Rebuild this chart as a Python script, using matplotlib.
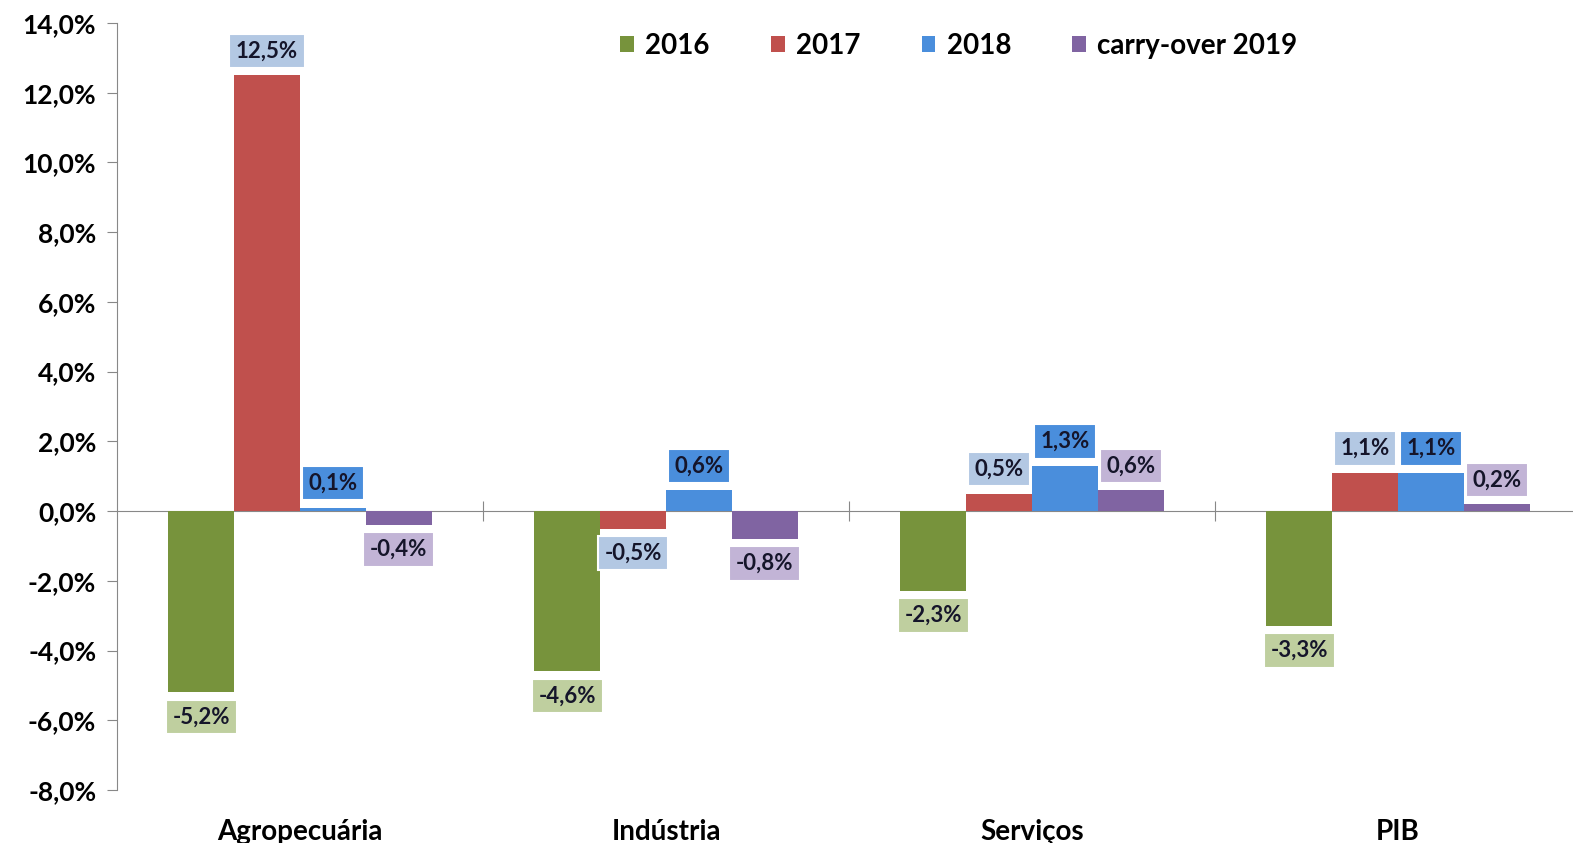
import numpy as np
import matplotlib.pyplot as plt
from matplotlib.ticker import FuncFormatter, FixedLocator

plt.rcParams['font.family'] = ['Lato', 'DejaVu Sans']
plt.rcParams['font.weight'] = 'bold'

categories = ['Agropecuária', 'Indústria', 'Serviços', 'PIB']
series_names = ['2016', '2017', '2018', 'carry-over 2019']
v2016 = [-5.2, -4.6, -2.3, -3.3]
v2017 = [12.5, -0.5, 0.5, 1.1]
v2018 = [0.1, 0.6, 1.3, 1.1]
v2019 = [-0.4, -0.8, 0.6, 0.2]

bar_colors = ['#77933C', '#C0504D', '#4A8EDC', '#8064A2']
box_colors = ['#BFCF9F', '#B3C8E3', '#4A8EDC', '#C2B4D6']

fig = plt.figure(figsize=(15.73, 8.43), dpi=100)
ax = fig.add_axes([0.0744, 0.0629, 0.9307, 0.9098])

x = np.arange(len(categories))
w = 0.18
all_vals = [v2016, v2017, v2018, v2019]
for k, vals in enumerate(all_vals):
    pos = x + (k - 1.5) * w
    ax.bar(pos, vals, width=w, color=bar_colors[k], label=series_names[k], zorder=3)
    for xi, v in zip(pos, vals):
        txt = f'{v:.1f}%'.replace('.', ',')
        off = 10 if v >= 0 else -10
        ax.annotate(txt, (xi, v), xytext=(0, off), textcoords='offset points',
                    ha='center', va='bottom' if v >= 0 else 'top',
                    fontsize=16, fontweight='bold', color='#15152a',
                    bbox=dict(boxstyle='square,pad=0.3', fc=box_colors[k], ec='white', lw=1.5),
                    zorder=4)

ax.set_xlim(-0.5, 3.5)
ax.set_ylim(-8, 14)
ax.set_yticks(np.arange(-8, 15, 2))
ax.yaxis.set_major_formatter(FuncFormatter(lambda v, p: f'{v:.1f}%'.replace('.', ',')))
ax.tick_params(axis='y', labelsize=19, length=7, color='#888888', pad=8)

for s in ['top', 'right']:
    ax.spines[s].set_visible(False)
ax.spines['left'].set_color('#888888')
ax.spines['bottom'].set_position(('data', 0))
ax.spines['bottom'].set_color('#888888')
ax.xaxis.set_major_locator(FixedLocator([0.5, 1.5, 2.5, 3.5]))
ax.set_xticklabels([])
ax.tick_params(axis='x', direction='inout', length=14, color='#888888')

for xi, c in zip(x, categories):
    ax.text(xi, -0.038, c, transform=ax.get_xaxis_transform(), ha='center', va='top',
            fontsize=20, fontweight='bold')

ax.legend(loc='upper center', bbox_to_anchor=(0.575, 1.02), ncol=4, frameon=False,
          fontsize=20, handlelength=0.5, handleheight=0.5, handletextpad=0.4, columnspacing=2.2)

fig.savefig('out.png', dpi=100)
